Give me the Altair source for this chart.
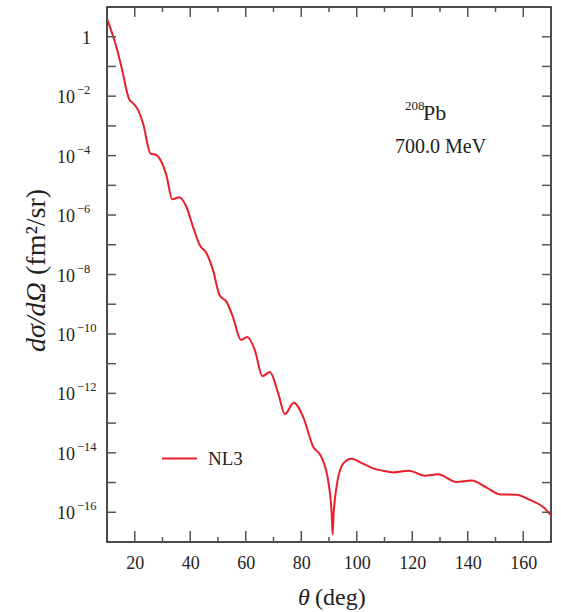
import altair as alt
import pandas as pd

# ---- data ----
theta_deg = [10, 11, 13, 15.2, 18, 19.4, 21.2, 23, 25.7, 27.8, 29.6, 31.4, 33.5, 36.1,
             38.6, 41, 43.4, 45.9, 48.2, 50.6, 53.1, 55.4, 58.3, 60.6, 63.3, 66, 68.7,
             71.7, 74.1, 77.3, 80.7, 84.3, 87.3, 89.7, 90.5, 91.0, 91.3, 91.7, 92.2,
             92.7, 95.1, 98.1, 101.7, 105.9, 109.5, 113.1, 118.8, 124.5, 129.3, 135.9,
             141.3, 146.8, 151.6, 157.6, 162.4, 167.2, 170]
xsec_nl3 = [3.98e0, 2.24e0, 6.0e-1, 9.8e-2, 7.8e-3, 5.8e-3, 3.4e-3, 1.2e-3, 1.17e-4,
            1.05e-4, 6.2e-5, 2.2e-5, 3.4e-6, 4.0e-6, 1.9e-6, 4.0e-7, 9.8e-8, 5.1e-8,
            1.4e-8, 2.0e-9, 1.2e-9, 3.7e-10, 6.3e-11, 7.9e-11, 2.8e-11, 3.8e-12,
            5.2e-12, 1.0e-12, 2.0e-13, 4.8e-13, 1.6e-13, 1.6e-14, 7.2e-15, 1.17e-15,
            3.2e-16, 7.9e-17, 1.8e-17, 1.0e-16, 3.2e-16, 7.1e-16, 4.3e-15, 6.3e-15,
            4.6e-15, 3.0e-15, 2.5e-15, 2.2e-15, 2.5e-15, 1.7e-15, 1.9e-15, 1.05e-15,
            1.17e-15, 6.8e-16, 4.0e-16, 3.9e-16, 2.6e-16, 1.5e-16, 7.9e-17]
series_name = "NL3"

x_major_ticks = [20, 40, 60, 80, 100, 120, 140, 160]
x_minor_ticks = [30, 50, 70, 90, 110, 130, 150]
y_tick_values = [1e-2, 1e-4, 1e-6, 1e-8, 1e-10, 1e-12, 1e-14, 1e-16]
y_tick_base = ["10"] * 8
y_tick_exp = ["−2", "−4", "−6", "−8", "−10", "−12", "−14", "−16"]
y_unit_value = [1e0]
y_unit_label = ["1"]
y_minor_ticks = [1e0, 1e-1, 1e-2, 1e-3, 1e-4, 1e-5, 1e-6, 1e-7, 1e-8, 1e-9, 1e-10,
                 1e-11, 1e-12, 1e-13, 1e-14, 1e-15, 1e-16]

W, H = 444, 535
FONT = "Liberation Serif"
RED = "#e8202a"
TICK = "#555555"
INK = "#222222"

df = pd.DataFrame({"theta": theta_deg, "xsec": xsec_nl3, "model": series_name})

xscale = alt.Scale(domain=[10, 170], nice=False, zero=False)
yscale = alt.Scale(type="log", domain=[1e-17, 1e1], nice=False)

line = alt.Chart(df).mark_line(strokeWidth=2, interpolate="monotone", clip=True).encode(
    x=alt.X("theta:Q", scale=xscale,
            axis=alt.Axis(values=x_major_ticks, ticks=False, domain=False, grid=False,
                          labelFont=FONT, labelFontSize=18, labelColor=INK,
                          labelPadding=12, title=None)),
    y=alt.Y("xsec:Q", scale=yscale,
            axis=alt.Axis(labels=False, ticks=False, domain=False, grid=False, title=None)),
    color=alt.Color("model:N", scale=alt.Scale(range=[RED]),
                    legend=alt.Legend(orient="none", legendX=54, legendY=433, title=None,
                                      symbolType="stroke", symbolSize=1225,
                                      symbolStrokeWidth=2, labelFont=FONT,
                                      labelFontSize=19, labelColor=INK,
                                      labelOffset=10, padding=0)),
)

xmaj = pd.DataFrame({"t": x_major_ticks})
xmin = pd.DataFrame({"t": x_minor_ticks})
ymin = pd.DataFrame({"t": y_minor_ticks})

def xt(data, y0, y1):
    return alt.Chart(data).mark_rule(color=TICK, strokeWidth=1.5).encode(
        x=alt.X("t:Q", scale=xscale), y=alt.value(y0), y2=alt.value(y1))

def yt(data, x0, x1):
    return alt.Chart(data).mark_rule(color=TICK, strokeWidth=1.5).encode(
        y=alt.Y("t:Q", scale=yscale), x=alt.value(x0), x2=alt.value(x1))

ticks = [xt(xmaj, H, H - 11), xt(xmin, H, H - 5), xt(xmaj, 0, 10), xt(xmin, 0, 5),
         yt(ymin, 0, 9), yt(ymin, W, W - 9)]

ylab = pd.DataFrame({"v": y_tick_values, "base": y_tick_base, "exp": y_tick_exp})
yunit = pd.DataFrame({"v": y_unit_value, "lab": y_unit_label})

ylabels = [
    alt.Chart(ylab).mark_text(font=FONT, fontSize=18, align="left", baseline="middle",
                              color=INK, dy=2).encode(
        y=alt.Y("v:Q", scale=yscale), x=alt.value(-50), text="base:N"),
    alt.Chart(ylab).mark_text(font=FONT, fontSize=12.5, align="left", baseline="middle",
                              color=INK, dy=-6).encode(
        y=alt.Y("v:Q", scale=yscale), x=alt.value(-30), text="exp:N"),
    alt.Chart(yunit).mark_text(font=FONT, fontSize=18, align="left", baseline="middle",
                               color=INK, dy=2).encode(
        y=alt.Y("v:Q", scale=yscale), x=alt.value(-25), text="lab:N"),
]

one = pd.DataFrame({"a": [0]})

def txt(s, x, y, size, style="normal", align="left", angle=0, baseline="alphabetic"):
    return alt.Chart(one).mark_text(text=s, font=FONT, fontSize=size, fontStyle=style,
                                    align=align, baseline=baseline, angle=angle,
                                    color=INK).encode(x=alt.value(x), y=alt.value(y))

texts = [
    txt("208", 298, 103, 13),
    txt("Pb", 316, 113, 22),
    txt("700.0 MeV", 288, 146, 20),
    txt("θ", 191, 598, 24, style="italic"),
    txt("(deg)", 208, 598, 24),
    txt("dσ/dΩ", -70, 345, 28, style="italic", angle=270, baseline="middle"),
    txt("(fm²/sr)", -70, 268, 28, angle=270, baseline="middle"),
]

chart = alt.layer(line, *ticks, *ylabels, *texts).properties(
    width=W, height=H,
    autosize=alt.AutoSizeParams(type="none"),
    padding={"left": 107, "top": 7, "right": 10, "bottom": 70},
).configure(font=FONT).configure_view(stroke="#111", strokeWidth=1.5)

chart.save("out.html", embed_options={"renderer": "svg", "actions": False})
